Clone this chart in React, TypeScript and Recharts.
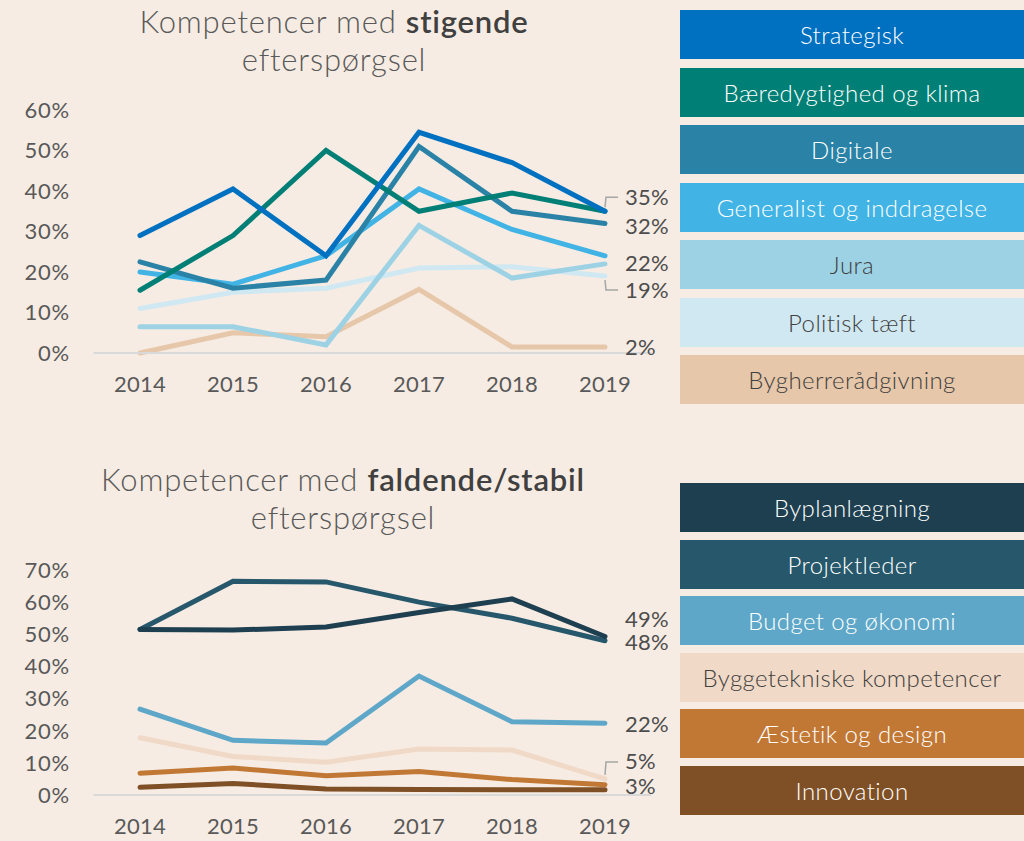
import React from 'react';
import { LineChart, Line, XAxis, YAxis } from 'recharts';

const years = [2014, 2015, 2016, 2017, 2018, 2019];

// stigende efterspørgsel
const strategisk = [29, 40.5, 24, 54.5, 47, 35];
const baeredygtighed = [15.5, 29, 50, 35, 39.5, 35];
const digitale = [22.5, 16, 18, 51, 35, 32];
const generalist = [20, 17, 24, 40.5, 30.5, 24];
const jura = [6.5, 6.5, 2, 31.5, 18.5, 22];
const politisk = [11, 15, 16, 21, 21.3, 19];
const bygherre = [0, 5, 4, 15.7, 1.5, 1.5];

// faldende/stabil efterspørgsel
const byplan = [51.5, 51.3, 52.3, 56.8, 61, 49.3];
const projektleder = [51.5, 66.5, 66.3, 60, 55, 48];
const budget = [26.7, 17, 16.2, 37, 22.8, 22.3];
const byggetek = [17.8, 12, 10.2, 14.3, 14, 5];
const aestetik = [6.8, 8.4, 6, 7.3, 4.8, 3.2];
const innovation = [2.4, 3.6, 1.9, 1.7, 1.6, 1.6];

const risingTicks = [0, 10, 20, 30, 40, 50, 60];
const fallingTicks = [0, 10, 20, 30, 40, 50, 60, 70];

type Series = {
  key: string;
  name: string;
  values: number[];
  color: string;
  text: string;
  endDy?: number;
  leader?: boolean;
};

const rising: Series[] = [
  { key: 'strategisk', name: 'Strategisk', values: strategisk, color: '#0070C0', text: '#fff', endDy: -14, leader: true },
  { key: 'baeredygtighed', name: 'Bæredygtighed og klima', values: baeredygtighed, color: '#007F76', text: '#fff' },
  { key: 'digitale', name: 'Digitale', values: digitale, color: '#2A82A6', text: '#fff', endDy: 3 },
  { key: 'generalist', name: 'Generalist og inddragelse', values: generalist, color: '#41B3E5', text: '#fff' },
  { key: 'jura', name: 'Jura', values: jura, color: '#9DD2E5', text: '#404040', endDy: 0 },
  { key: 'politisk', name: 'Politisk tæft', values: politisk, color: '#D0E8F2', text: '#404040', endDy: 14, leader: true },
  { key: 'bygherre', name: 'Bygherrerådgivning', values: bygherre, color: '#E6C7A9', text: '#404040', endDy: 1 },
];

const falling: Series[] = [
  { key: 'byplan', name: 'Byplanlægning', values: byplan, color: '#1E3F50', text: '#fff', endDy: -17 },
  { key: 'projektleder', name: 'Projektleder', values: projektleder, color: '#26576B', text: '#fff', endDy: 2 },
  { key: 'budget', name: 'Budget og økonomi', values: budget, color: '#5EA7C8', text: '#fff', endDy: 1 },
  { key: 'byggetek', name: 'Byggetekniske kompetencer', values: byggetek, color: '#F0D9C6', text: '#404040', endDy: -17, leader: true },
  { key: 'aestetik', name: 'Æstetik og design', values: aestetik, color: '#C27835', text: '#fff', endDy: 2 },
  { key: 'innovation', name: 'Innovation', values: innovation, color: '#7F5025', text: '#fff' },
];

const buildRows = (series: Series[]) =>
  years.map((year, i) => {
    const row: Record<string, number> = { year };
    series.forEach((s) => {
      row[s.key] = s.values[i];
    });
    return row;
  });

const FONT = 'Lato, "Open Sans", sans-serif';
const GREY = '#595959';

const endLabel = (s: Series) => (props: any) => {
  const { x, y, index, value } = props;
  if (index !== years.length - 1 || s.endDy === undefined) return null;
  const ly = y + s.endDy;
  return (
    <g key={`lbl-${s.key}`}>
      {s.leader && (
        <path
          d={`M${x},${y + (s.endDy < 0 ? -4 : 4)} L${x + 1},${ly} L${x + 13},${ly}`}
          fill="none"
          stroke="#A6A6A6"
          strokeWidth={1.5}
        />
      )}
      <text x={x + 20} y={ly} dy="0.34em" fill="#4D4D4D" fontSize={22} letterSpacing={0.3} textAnchor="start">
        {`${Math.round(value)}%`}
      </text>
    </g>
  );
};

type PanelProps = {
  series: Series[];
  ticks: number[];
  height: number;
  marginTop: number;
  marginBottom: number;
};

const Panel = ({ series, ticks, height, marginTop, marginBottom }: PanelProps) => (
  <LineChart
    width={680}
    height={height}
    data={buildRows(series)}
    margin={{ top: marginTop, right: 28.5, bottom: marginBottom, left: 0 }}
  >
    <XAxis
      dataKey="year"
      type="number"
      domain={[2013.5, 2019.5]}
      ticks={years}
      tickFormatter={(v) => String(v)}
      axisLine={{ stroke: '#D9D9D9', strokeWidth: 2 }}
      tickLine={false}
      tickSize={0}
      tickMargin={23}
      height={40}
      tick={{ fill: GREY, fontSize: 22, letterSpacing: 0.3 }}
    />
    <YAxis
      type="number"
      domain={[ticks[0], ticks[ticks.length - 1]]}
      ticks={ticks}
      tickFormatter={(v) => `${v}%`}
      axisLine={false}
      tickLine={false}
      tickSize={0}
      tickMargin={23.5}
      width={93.5}
      tick={{ fill: GREY, fontSize: 22, letterSpacing: 0.8 }}
    />
    {[...series].reverse().map((s) => (
      <Line
        key={s.key}
        dataKey={s.key}
        type="linear"
        stroke={s.color}
        strokeWidth={5}
        strokeLinecap="round"
        dot={false}
        isAnimationActive={false}
        label={endLabel(s)}
      />
    ))}
  </LineChart>
);

const Legend = ({ series, top, pitch }: { series: Series[]; top: number; pitch: number }) => (
  <>
    {series.map((s, i) => (
      <div
        key={s.key}
        style={{
          position: 'absolute',
          left: 680,
          top: top + i * pitch,
          width: 344,
          height: 49,
          background: s.color,
          color: s.text,
          fontSize: 24,
          fontWeight: 300,
          letterSpacing: 0.4,
          lineHeight: '49px',
          textAlign: 'center',
          whiteSpace: 'nowrap',
        }}
      >
        {s.name}
      </div>
    ))}
  </>
);

const Title = ({ top, center, bold }: { top: number; center: number; bold: string }) => (
  <div
    style={{
      position: 'absolute',
      top,
      left: center - 320,
      width: 640,
      textAlign: 'center',
      fontSize: 31,
      fontWeight: 300,
      letterSpacing: 0.8,
      lineHeight: '38px',
      color: GREY,
    }}
  >
    Kompetencer med <span style={{ fontWeight: 600, color: '#404040' }}>{bold}</span>
    <br />
    efterspørgsel
  </div>
);

export default function App() {
  return (
    <div
      style={{
        position: 'absolute',
        left: 0,
        top: 0,
        width: 1024,
        height: 841,
        background: '#F6ECE3',
        fontFamily: FONT,
        overflow: 'hidden',
      }}
    >
      <Title top={2} center={334} bold="stigende" />
      <Title top={460} center={343} bold="faldende/stabil" />
      <div style={{ position: 'absolute', left: 0, top: 0 }}>
        <Panel series={rising} ticks={risingTicks} height={420} marginTop={110} marginBottom={27} />
      </div>
      <div style={{ position: 'absolute', left: 0, top: 440 }}>
        <Panel series={falling} ticks={fallingTicks} height={400} marginTop={130} marginBottom={5} />
      </div>
      <Legend series={rising} top={10} pitch={57.5} />
      <Legend series={falling} top={483} pitch={56.6} />
    </div>
  );
}
